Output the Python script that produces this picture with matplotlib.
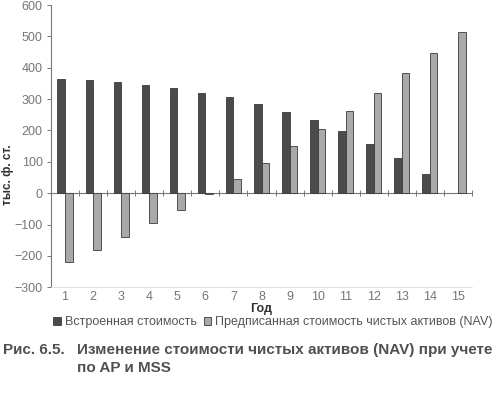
import numpy as np
import matplotlib
matplotlib.use('Agg')
import matplotlib.pyplot as plt
from matplotlib.patches import Patch

plt.rcParams['font.family'] = ['Liberation Sans', 'DejaVu Sans']

# data
years = list(range(1, 16))
embedded = [363, 360, 353, 346, 334, 320, 306, 285, 260, 232, 197, 157, 112, 62, np.nan]
nav = [-219, -182, -139, -96, -52, -4, 45, 97, 150, 204, 261, 321, 382, 446, 513]
yticks = [-300, -200, -100, 0, 100, 200, 300, 400, 500, 600]

dark = '#4b4b4b'
light = '#a9a9a9'
edge = '#3a3a3a'
grey_txt = '#767676'

fig = plt.figure(figsize=(5.0, 3.93), dpi=100)
ax = fig.add_axes([51 / 500, 1 - 287.3 / 393, 421 / 500, 282.3 / 393])

x = np.array(years)
w = 0.27
ax.bar(x - w / 2, embedded, w, color=dark, edgecolor=edge, linewidth=0.6)
ax.bar(x + w / 2, nav, w, color=light, edgecolor=edge, linewidth=0.6)

ax.set_xlim(0.5, 15.5)
ax.set_ylim(-300, 600)
ax.set_yticks(yticks)
ax.set_xticks(years)
ax.set_xticklabels([str(y) for y in years])

for s in ['top', 'right']:
    ax.spines[s].set_visible(False)
ax.spines['left'].set_color('#777777')
ax.spines['left'].set_linewidth(0.8)
ax.spines['bottom'].set_color('#dddddd')
ax.spines['bottom'].set_linewidth(0.6)

ax.tick_params(axis='y', direction='out', length=3, width=0.7, color='#777777',
               labelsize=9, labelcolor=grey_txt, pad=3)
ax.tick_params(axis='x', length=0, labelsize=9, labelcolor=grey_txt, pad=3)

# zero line with category-boundary tick marks
zero_ax = ax.secondary_xaxis(300 / 900)
zero_ax.set_xticks(np.arange(0.5, 16, 1.0))
zero_ax.tick_params(direction='inout', length=4, width=0.7, color='#777777', labelbottom=False,
                    labeltop=False)
zero_ax.spines['bottom'].set_color('#777777')
zero_ax.spines['bottom'].set_linewidth(0.8)
zero_ax.spines['top'].set_color('#777777')
zero_ax.spines['top'].set_linewidth(0.8)

ax.set_xlabel('Год', fontsize=9, color='#333333', fontweight='bold', labelpad=0)
ax.set_ylabel('тыс. ф. ст.', fontsize=8.5, color='#333333', fontweight='bold')
ax.yaxis.set_label_coords(-0.088, 0.4)

handles = [Patch(facecolor=dark, edgecolor=edge, linewidth=0.6),
           Patch(facecolor=light, edgecolor=edge, linewidth=0.6)]
fig.legend(handles, ['Встроенная стоимость', 'Предписанная стоимость чистых активов (NAV)'],
           loc='center', bbox_to_anchor=(273 / 500, 1 - 322 / 393), ncol=2, frameon=False,
           fontsize=9, labelcolor='#555555', handlelength=0.6, handleheight=0.6,
           handletextpad=0.3, columnspacing=0.6, borderpad=0)

cap_kw = dict(fontsize=11, fontweight='bold', color='#505050', va='center', ha='left')
fig.text(3 / 500, 1 - 350 / 393, 'Рис. 6.5.', **cap_kw)
fig.text(77 / 500, 1 - 350 / 393, 'Изменение стоимости чистых активов (NAV) при учете', **cap_kw)
fig.text(77 / 500, 1 - 368 / 393, 'по AP и MSS', **cap_kw)

fig.savefig('out.png', dpi=100)
